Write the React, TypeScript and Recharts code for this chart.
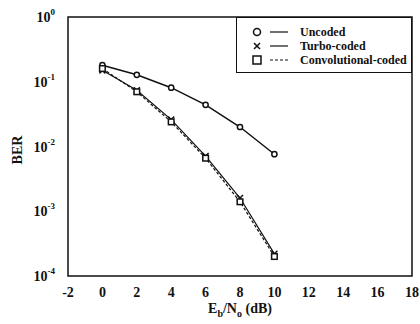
import { LineChart, Line, XAxis, YAxis, ReferenceArea } from "recharts";

const snrDb = [0, 2, 4, 6, 8, 10];
const uncoded = [0.18, 0.128, 0.081, 0.044, 0.02, 0.0076];
const turbo = [0.15, 0.074, 0.026, 0.0071, 0.0016, 0.00022];
const convolutional = [0.16, 0.07, 0.024, 0.0066, 0.0014, 0.0002];
const xTicks = [-2, 0, 2, 4, 6, 8, 10, 12, 14, 16, 18];
const yTicks = [1e-4, 1e-3, 1e-2, 1e-1, 1];

const data = snrDb.map((x, i) => ({
  x,
  uncoded: uncoded[i],
  turbo: turbo[i],
  conv: convolutional[i],
}));

const FONT = "'Liberation Serif', 'DejaVu Serif', serif";

const YTick = ({ x, y, payload }: any) => {
  const exp = Math.round(Math.log10(payload.value));
  return (
    <text x={x - 5} y={y + 5} textAnchor="end" fontFamily={FONT} fontWeight="bold" fontSize={14} fill="#111">
      10
      <tspan dy={-7} fontSize={9}>
        {exp}
      </tspan>
    </text>
  );
};

const XTick = ({ x, y, payload }: any) => (
  <text x={x} y={y + 13} textAnchor="middle" fontFamily={FONT} fontWeight="bold" fontSize={14} fill="#111">
    {payload.value}
  </text>
);

const Circle = ({ cx, cy }: any) => <circle cx={cx} cy={cy} r={2.6} fill="#fff" stroke="#111" strokeWidth={1.5} />;
const Cross = ({ cx, cy }: any) => (
  <path d={`M${cx - 3},${cy - 3}L${cx + 3},${cy + 3}M${cx - 3},${cy + 3}L${cx + 3},${cy - 3}`} stroke="#111" strokeWidth={1.5} />
);
const Square = ({ cx, cy }: any) => (
  <rect x={cx - 2.8} y={cy - 2.8} width={5.6} height={5.6} fill="#fff" stroke="#111" strokeWidth={1.5} />
);

const legendItems = [
  { name: "Uncoded", marker: "circle", dash: undefined },
  { name: "Turbo-coded", marker: "cross", dash: undefined },
  { name: "Convolutional-coded", marker: "square", dash: "3 2" },
];

const LegendBox = () => (
  <div
    style={{
      position: "absolute",
      left: 236,
      top: 17,
      width: 176,
      height: 56,
      boxSizing: "border-box",
      border: "1px solid #111",
      background: "#fff",
      padding: "7px 0 0 14px",
      fontFamily: FONT,
      fontSize: 12,
      fontWeight: "bold",
      color: "#111",
      whiteSpace: "nowrap",
    }}
  >
    {legendItems.map((it) => (
      <div key={it.name} style={{ display: "flex", alignItems: "center", height: 14 }}>
        <svg width={42} height={12}>
          {it.marker === "circle" && <circle cx={6} cy={6} r={3.5} fill="#fff" stroke="#111" strokeWidth={1.5} />}
          {it.marker === "cross" && <path d="M3,3L9,9M3,9L9,3" stroke="#111" strokeWidth={1.5} />}
          {it.marker === "square" && <rect x={2} y={2} width={8} height={8} fill="#fff" stroke="#111" strokeWidth={1.5} />}
          <line x1={19} y1={6} x2={37} y2={6} stroke="#111" strokeWidth={1.2} strokeDasharray={it.dash} />
        </svg>
        <span style={{ marginLeft: 7 }}>{it.name}</span>
      </div>
    ))}
  </div>
);

const XLabel = () => (
  <text x={240} y={313} textAnchor="middle" fontFamily={FONT} fontWeight="bold" fontSize={14} fill="#111">
    E<tspan dy={4} fontSize={10}>b</tspan>
    <tspan dy={-4}>/N</tspan>
    <tspan dy={4} fontSize={10}>o</tspan>
    <tspan dy={-4}> (dB)</tspan>
  </text>
);

const YLabel = () => (
  <text x={22} y={150} transform="rotate(-90 22 150)" textAnchor="middle" fontFamily={FONT} fontWeight="bold" fontSize={14} fill="#111">
    BER
  </text>
);

export default function App() {
  return (
    <div style={{ position: "absolute", left: 0, top: 0, width: 420, height: 324, background: "#fff" }}>
      <LineChart width={420} height={324} data={data} margin={{ top: 17, right: 8, left: 0, bottom: 0 }}>
        <XAxis
          dataKey="x"
          type="number"
          domain={[-2, 18]}
          ticks={xTicks}
          interval={0}
          tick={<XTick />}
          tickLine={false}
          axisLine={false}
          height={48}
          label={<XLabel />}
        />
        <YAxis
          type="number"
          scale="log"
          domain={[1e-4, 1]}
          ticks={yTicks}
          interval={0}
          tick={<YTick />}
          tickLine={false}
          axisLine={false}
          width={68}
          allowDataOverflow
          label={<YLabel />}
        />
        <ReferenceArea x1={-2} x2={18} y1={1e-4} y2={1} fill="none" stroke="#111" strokeWidth={1.5} ifOverflow="visible" />
        <Line dataKey="uncoded" stroke="#111" strokeWidth={1.5} dot={<Circle />} isAnimationActive={false} />
        <Line dataKey="turbo" stroke="#111" strokeWidth={1.2} dot={<Cross />} isAnimationActive={false} />
        <Line dataKey="conv" stroke="#111" strokeWidth={1.2} strokeDasharray="3 2" dot={<Square />} isAnimationActive={false} />
      </LineChart>
      <LegendBox />
    </div>
  );
}
